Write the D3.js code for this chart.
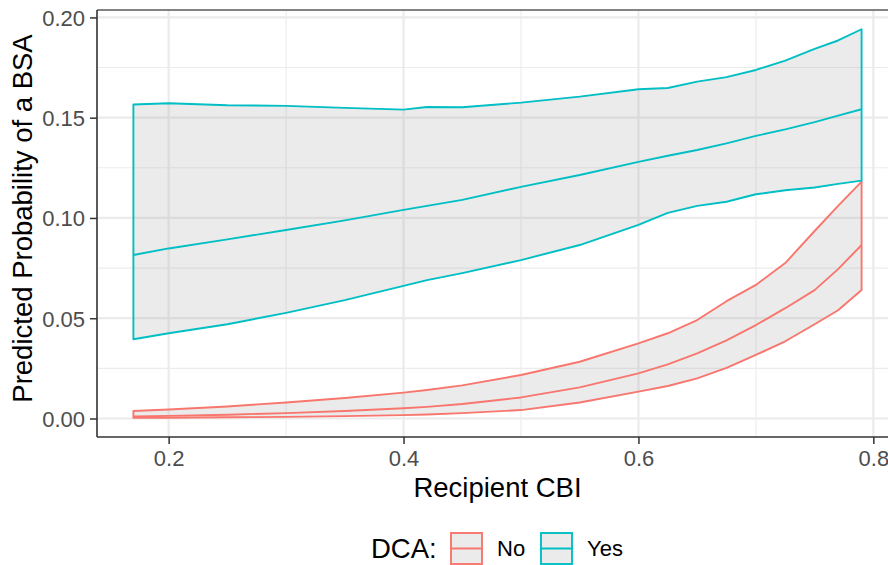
<!DOCTYPE html>
<html>
<head>
<meta charset="utf-8">
<script src="https://cdn.jsdelivr.net/npm/d3@7"></script>
<style>
  html, body { margin: 0; padding: 0; background: #fff; }
  svg { display: block; font-family: "Liberation Sans", Arial, Helvetica, sans-serif; }
</style>
</head>
<body>
<svg id="chart" width="888" height="565"></svg>
<script>
// ---------------- data ----------------
const cbi = [0.17, 0.20, 0.25, 0.30, 0.35, 0.40, 0.42, 0.45, 0.50, 0.55, 0.60, 0.625, 0.65, 0.675, 0.70, 0.725, 0.75, 0.77, 0.79];

const yesUpper = [0.1566, 0.1572, 0.1562, 0.1559, 0.1549, 0.1540, 0.1553, 0.1552, 0.1575, 0.1605, 0.1642, 0.1648, 0.1680, 0.1702, 0.1738, 0.1785, 0.1843, 0.1885, 0.1941];
const yesFit   = [0.0815, 0.0848, 0.0893, 0.0940, 0.0988, 0.1040, 0.1060, 0.1090, 0.1155, 0.1214, 0.1280, 0.1310, 0.1339, 0.1372, 0.1409, 0.1442, 0.1478, 0.1510, 0.1542];
const yesLower = [0.0395, 0.0425, 0.0470, 0.0527, 0.0590, 0.0661, 0.0690, 0.0725, 0.0790, 0.0865, 0.0965, 0.1025, 0.1060, 0.1081, 0.1118, 0.1138, 0.1152, 0.1170, 0.1186];

const noUpper = [0.0037, 0.0045, 0.0060, 0.0080, 0.0102, 0.0129, 0.0142, 0.0165, 0.0217, 0.0283, 0.0375, 0.0425, 0.0491, 0.0585, 0.0666, 0.0775, 0.0935, 0.1060, 0.1181];
const noFit   = [0.0010, 0.0013, 0.0019, 0.0027, 0.0037, 0.0051, 0.0058, 0.0072, 0.0105, 0.0155, 0.0225, 0.0270, 0.0325, 0.0390, 0.0466, 0.0550, 0.0640, 0.0745, 0.0865];
const noLower = [0.0003, 0.0004, 0.0006, 0.0008, 0.0012, 0.0017, 0.0020, 0.0027, 0.0042, 0.0080, 0.0134, 0.0162, 0.0200, 0.0252, 0.0317, 0.0385, 0.0470, 0.0540, 0.0641];

const groups = ["No", "Yes"];
const groupColors = ["#F8766D", "#00BFC4"];

const xMajor = [0.2, 0.4, 0.6, 0.8];
const xMinor = [0.3, 0.5, 0.7];
const yMajor = [0.00, 0.05, 0.10, 0.15, 0.20];
const yMinor = [0.025, 0.075, 0.125, 0.175];

const xTitle = "Recipient CBI";
const yTitle = "Predicted Probability of a BSA";
const legendTitle = "DCA:";

// ---------------- layout ----------------
const svg = d3.select("#chart");
const panel = { left: 97, top: 10, right: 898, bottom: 437 };
const LW = 1.9;

const x = d3.scaleLinear().domain([0.139, 0.821]).range([panel.left, panel.right]);
const y = d3.scaleLinear().domain([-0.00923, 0.2037]).range([panel.bottom, panel.top]);

svg.append("defs").append("clipPath").attr("id", "pclip")
  .append("rect").attr("x", panel.left).attr("y", panel.top)
  .attr("width", panel.right - panel.left).attr("height", panel.bottom - panel.top);

const g = svg.append("g").attr("clip-path", "url(#pclip)");

// gridlines
g.selectAll(".ymin").data(yMinor).enter().append("line")
  .attr("x1", panel.left).attr("x2", panel.right)
  .attr("y1", d => y(d)).attr("y2", d => y(d))
  .attr("stroke", "#ebebeb").attr("stroke-width", 1.1);
g.selectAll(".xmin").data(xMinor).enter().append("line")
  .attr("y1", panel.top).attr("y2", panel.bottom)
  .attr("x1", d => x(d)).attr("x2", d => x(d))
  .attr("stroke", "#ebebeb").attr("stroke-width", 1.1);
g.selectAll(".ymaj").data(yMajor).enter().append("line")
  .attr("x1", panel.left).attr("x2", panel.right)
  .attr("y1", d => y(d)).attr("y2", d => y(d))
  .attr("stroke", "#ebebeb").attr("stroke-width", 2.2);
g.selectAll(".xmaj").data(xMajor).enter().append("line")
  .attr("y1", panel.top).attr("y2", panel.bottom)
  .attr("x1", d => x(d)).attr("x2", d => x(d))
  .attr("stroke", "#ebebeb").attr("stroke-width", 2.2);

// series
const series = [
  { name: "No",  color: groupColors[0], upper: noUpper,  fit: noFit,  lower: noLower },
  { name: "Yes", color: groupColors[1], upper: yesUpper, fit: yesFit, lower: yesLower }
];

const area = d3.area().x(d => x(d.x)).y0(d => y(d.lo)).y1(d => y(d.hi));
const line = d3.line().x(d => x(d.x)).y(d => y(d.v));

series.forEach(s => {
  const pts = cbi.map((v, i) => ({ x: v, lo: s.lower[i], hi: s.upper[i] }));
  g.append("path").attr("d", area(pts))
    .attr("fill", "#999999").attr("fill-opacity", 0.2)
    .attr("stroke", s.color).attr("stroke-width", LW).attr("stroke-linejoin", "round");
});
series.forEach(s => {
  const pts = cbi.map((v, i) => ({ x: v, v: s.fit[i] }));
  g.append("path").attr("d", line(pts))
    .attr("fill", "none").attr("stroke", s.color).attr("stroke-width", LW)
    .attr("stroke-linejoin", "round");
});

// panel top border
svg.append("line").attr("x1", panel.left).attr("x2", panel.right)
  .attr("y1", panel.top).attr("y2", panel.top)
  .attr("stroke", "#5a5a5a").attr("stroke-width", 1.4);

// axes
const yAxis = d3.axisLeft(y).tickValues(yMajor).tickFormat(d3.format(".2f")).tickSize(7).tickPadding(5);
const xAxis = d3.axisBottom(x).tickValues(xMajor).tickFormat(d3.format(".1f")).tickSize(7).tickPadding(5);

const ya = svg.append("g").attr("transform", `translate(${panel.left},0)`).call(yAxis);
const xa = svg.append("g").attr("transform", `translate(0,${panel.bottom})`).call(xAxis);
[ya, xa].forEach(a => {
  a.select(".domain").remove();
  a.selectAll(".tick line").attr("stroke", "#333333").attr("stroke-width", 1.5);
  a.selectAll(".tick text").attr("fill", "#4d4d4d").style("font-size", "22px")
    .style("font-family", '"Liberation Sans", Arial, Helvetica, sans-serif');
});
ya.selectAll(".tick text").attr("dy", "0.36em");
xa.selectAll(".tick text").attr("dy", "0.75em");

// axis lines
svg.append("line").attr("x1", panel.left).attr("x2", panel.left)
  .attr("y1", panel.top).attr("y2", panel.bottom)
  .attr("stroke", "#333333").attr("stroke-width", 1.6);
svg.append("line").attr("x1", panel.left).attr("x2", panel.right)
  .attr("y1", panel.bottom).attr("y2", panel.bottom)
  .attr("stroke", "#333333").attr("stroke-width", 1.6);

// titles
svg.append("text").attr("x", (413 + 582) / 2).attr("y", 497)
  .attr("text-anchor", "middle").style("font-size", "27.5px").attr("fill", "#000")
  .text(xTitle);
svg.append("text").attr("transform", `translate(32,${(30 + 407) / 2}) rotate(-90)`)
  .attr("text-anchor", "middle").style("font-size", "27.5px").attr("fill", "#000")
  .text(yTitle);

// legend
const leg = svg.append("g");
leg.append("text").attr("x", 371).attr("y", 558).style("font-size", "27.5px").attr("fill", "#000").text(legendTitle);
const keyX = [450, 540];
const labX = [497, 587];
groups.forEach((name, i) => {
  const kx = keyX[i], ky = 532, ks = 33;
  leg.append("rect").attr("x", kx + 1).attr("y", ky + 1).attr("width", ks - 2).attr("height", ks - 2)
    .attr("fill", "#999999").attr("fill-opacity", 0.2)
    .attr("stroke", groupColors[i]).attr("stroke-width", LW);
  leg.append("line").attr("x1", kx).attr("x2", kx + ks).attr("y1", ky + ks / 2).attr("y2", ky + ks / 2)
    .attr("stroke", groupColors[i]).attr("stroke-width", LW);
  leg.append("text").attr("x", labX[i]).attr("y", 556).style("font-size", "22px").attr("fill", "#000").text(name);
});
</script>
</body>
</html>
